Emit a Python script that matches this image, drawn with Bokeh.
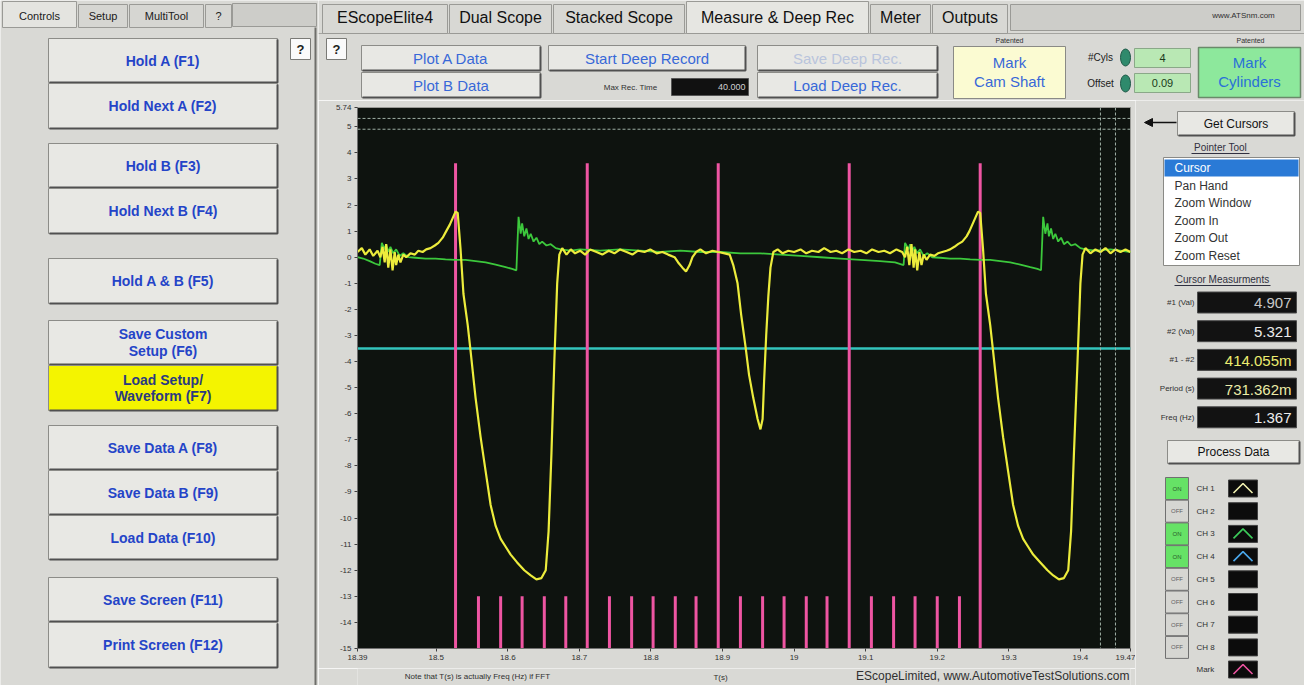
from bokeh.plotting import figure
from bokeh.layouts import row, column
from bokeh.models import Range1d, FixedTicker, CustomJSTickFormatter, Arrow, NormalHead, Span
from bokeh.core.properties import value
from bokeh.embed import file_html
from bokeh.resources import INLINE

# ---------------- data ----------------
x_ticks = [18.39, 18.5, 18.6, 18.7, 18.8, 18.9, 19.0, 19.1, 19.2, 19.3, 19.4, 19.47]
y_ticks = [-15, -14, -13, -12, -11, -10, -9, -8, -7, -6, -5, -4, -3, -2, -1, 0, 1, 2, 3, 4, 5, 5.74]

# CH 1 (yellow)
ch1_t = [18.390, 18.396, 18.401, 18.407, 18.412, 18.418, 18.422, 18.425, 18.428, 18.430,
         18.433, 18.436, 18.439, 18.442, 18.444, 18.447, 18.450, 18.454, 18.458, 18.464,
         18.470, 18.475, 18.481, 18.486, 18.492, 18.498, 18.503, 18.509, 18.514, 18.519,
         18.523, 18.527, 18.530, 18.534, 18.538, 18.544, 18.548, 18.555, 18.562, 18.569,
         18.576, 18.583, 18.590, 18.597, 18.604, 18.613, 18.623, 18.632, 18.640, 18.647,
         18.653, 18.657, 18.661, 18.665, 18.669, 18.672, 18.676, 18.682, 18.688, 18.694,
         18.701, 18.708, 18.715, 18.724, 18.732, 18.741, 18.749, 18.757, 18.766, 18.774,
         18.782, 18.791, 18.799, 18.808, 18.816, 18.824, 18.833, 18.838, 18.844, 18.849,
         18.854, 18.858, 18.863, 18.869, 18.877, 18.886, 18.894, 18.903, 18.910, 18.915,
         18.921, 18.926, 18.932, 18.937, 18.943, 18.949, 18.953, 18.956, 18.958, 18.961,
         18.964, 18.967, 18.971, 18.977, 18.984, 18.992, 19.000, 19.009, 19.017, 19.025,
         19.034, 19.042, 19.051, 19.059, 19.067, 19.076, 19.084, 19.093, 19.101, 19.109,
         19.118, 19.126, 19.134, 19.143, 19.151, 19.155, 19.158, 19.161, 19.164, 19.167,
         19.169, 19.172, 19.175, 19.178, 19.181, 19.185, 19.190, 19.196, 19.201, 19.207,
         19.213, 19.218, 19.224, 19.229, 19.235, 19.241, 19.245, 19.249, 19.253, 19.257,
         19.260, 19.264, 19.268, 19.274, 19.278, 19.285, 19.292, 19.299, 19.306, 19.313,
         19.320, 19.327, 19.334, 19.344, 19.354, 19.362, 19.370, 19.377, 19.383, 19.387,
         19.391, 19.396, 19.400, 19.403, 19.407, 19.414, 19.421, 19.428, 19.435, 19.442,
         19.449, 19.456, 19.463, 19.470]
ch1_v = [0.2, 0.35, 0.1, 0.3, 0.05, 0.25, 0.0, 0.4, -0.2, 0.5,
         -0.4, 0.3, -0.5, 0.2, -0.3, 0.1, -0.2, 0.1, 0.0, 0.15,
         0.1, 0.25, 0.2, 0.3, 0.35, 0.45, 0.55, 0.75, 1.0, 1.25,
         1.5, 1.75, 1.7, 0.3, -1.4, -2.6, -3.6, -5.4, -6.9, -8.2,
         -9.5, -10.3, -10.8, -11.1, -11.4, -11.7, -12.0, -12.2, -12.35, -12.3,
         -12.0, -10.5, -7.5, -4.0, -1.0, 0.1, 0.35, 0.1, 0.3, 0.15,
         0.25, 0.1, 0.3, 0.2, 0.1, 0.25, 0.15, 0.3, 0.2, 0.1,
         0.25, 0.2, 0.3, 0.15, 0.2, 0.1, 0.0, -0.2, -0.4, -0.55,
         -0.3, 0.0, 0.2, 0.3, 0.15, 0.25, 0.2, 0.15, 0.1, -0.3,
         -1.0, -2.2, -3.4, -4.5, -5.4, -6.2, -6.6, -6.2, -4.8, -3.0,
         -1.5, -0.4, 0.2, 0.3, 0.15, 0.25, 0.2, 0.3, 0.15, 0.25,
         0.2, 0.35, 0.2, 0.25, 0.15, 0.3, 0.2, 0.25, 0.15, 0.3,
         0.2, 0.25, 0.15, 0.3, 0.2, 0.0, 0.4, -0.3, 0.5, -0.4,
         0.3, -0.5, 0.2, -0.3, 0.1, -0.1, 0.1, 0.05, 0.15, 0.2,
         0.25, 0.3, 0.4, 0.5, 0.6, 0.8, 1.0, 1.25, 1.5, 1.75,
         1.7, 0.3, -1.4, -2.6, -3.6, -5.4, -6.9, -8.2, -9.5, -10.3,
         -10.8, -11.1, -11.4, -11.7, -12.0, -12.2, -12.35, -12.3, -12.0, -10.5,
         -7.5, -4.0, -1.0, 0.1, 0.35, 0.15, 0.3, 0.2, 0.35, 0.15,
         0.3, 0.2, 0.3, 0.2]

# CH 3 (green)
ch3_t = [18.390, 18.398, 18.407, 18.415, 18.421, 18.424, 18.428, 18.430, 18.433, 18.436,
         18.440, 18.444, 18.449, 18.454, 18.461, 18.471, 18.485, 18.499, 18.513, 18.527,
         18.541, 18.555, 18.569, 18.583, 18.597, 18.606, 18.612, 18.615, 18.618, 18.620,
         18.623, 18.626, 18.629, 18.632, 18.636, 18.640, 18.644, 18.648, 18.654, 18.660,
         18.667, 18.674, 18.688, 18.701, 18.729, 18.757, 18.785, 18.813, 18.841, 18.869,
         18.897, 18.925, 18.953, 18.981, 19.009, 19.037, 19.065, 19.093, 19.120, 19.141,
         19.153, 19.155, 19.160, 19.162, 19.165, 19.168, 19.172, 19.176, 19.181, 19.186,
         19.193, 19.204, 19.218, 19.232, 19.246, 19.260, 19.274, 19.288, 19.302, 19.316,
         19.330, 19.340, 19.345, 19.348, 19.351, 19.354, 19.356, 19.359, 19.362, 19.365,
         19.369, 19.373, 19.377, 19.382, 19.387, 19.393, 19.400, 19.407, 19.421, 19.442,
         19.456, 19.470]
ch3_v = [0.0, -0.05, -0.15, -0.25, -0.3, 0.55, 0.3, 0.5, 0.2, 0.4,
         0.15, 0.3, 0.05, 0.15, 0.0, -0.02, -0.05, -0.05, -0.08, -0.1,
         -0.1, -0.15, -0.2, -0.28, -0.38, -0.45, -0.5, 1.55, 0.9, 1.3,
         0.8, 1.1, 0.7, 0.9, 0.6, 0.75, 0.5, 0.6, 0.45, 0.5,
         0.35, 0.3, 0.25, 0.3, 0.25, 0.3, 0.25, 0.2, 0.25, 0.2,
         0.2, 0.15, 0.15, 0.1, 0.05, 0.0, -0.05, -0.1, -0.15, -0.2,
         -0.3, 0.55, 0.3, 0.5, 0.2, 0.4, 0.15, 0.3, 0.05, 0.15,
         0.0, -0.02, -0.05, -0.05, -0.08, -0.1, -0.1, -0.15, -0.2, -0.28,
         -0.38, -0.45, -0.5, 1.55, 0.9, 1.3, 0.8, 1.1, 0.7, 0.9,
         0.6, 0.75, 0.5, 0.6, 0.45, 0.5, 0.35, 0.3, 0.25, 0.3,
         0.25, 0.2]

# CH 4 (cyan) is a flat level
ch4_t = [18.39, 19.47]
ch4_v = [-3.5, -3.5]

# cylinder marks
mark_major_t = [18.527, 18.711, 18.894, 19.077, 19.260]
mark_major_top = 3.6
mark_minor_t = [18.559, 18.590, 18.620, 18.651, 18.681,
                18.742, 18.773, 18.803, 18.834, 18.863,
                18.925, 18.956, 18.986, 19.017, 19.046,
                19.108, 19.139, 19.169, 19.200, 19.231]
mark_minor_top = -13.0
mark_bottom = -15.0

# cursors
cursor_levels = [4.907, 5.321]
cursor_times = [19.428, 19.449]

# GUI texts
left_tabs = ["Controls", "Setup", "MultiTool", "?"]
left_buttons = [["Hold A (F1)"], ["Hold Next A (F2)"], ["Hold B (F3)"], ["Hold Next B (F4)"],
                ["Hold A & B (F5)"], ["Save Custom", "Setup (F6)"], ["Load Setup/", "Waveform (F7)"],
                ["Save Data A (F8)"], ["Save Data B (F9)"], ["Load Data (F10)"],
                ["Save Screen (F11)"], ["Print Screen (F12)"]]
top_tabs = ["EScopeElite4", "Dual Scope", "Stacked Scope", "Measure & Deep Rec", "Meter", "Outputs"]
pointer_items = ["Cursor", "Pan Hand", "Zoom Window", "Zoom In", "Zoom Out", "Zoom Reset"]
meas_labels = ["#1 (Val)", "#2 (Val)", "#1 - #2", "Period (s)", "Freq (Hz)"]
meas_values = ["4.907", "5.321", "414.055m", "731.362m", "1.367"]
channels = ["CH 1", "CH 2", "CH 3", "CH 4", "CH 5", "CH 6", "CH 7", "CH 8"]
channel_on = [True, False, True, True, False, False, False, False]

# ---------------- styling ----------------
FONT = value("Liberation Sans")
GUI_BG = "#d9d9d5"
BTN = "#e8e8e4"
EDGE = "#8c8c88"
SHADOW = "#505050"
BLUE_B = "#2444c8"
BLUE_T = "#3868d8"

YELLOW = "#ecec3c"
GREEN = "#3cc83c"
CYAN = "#33c4bc"
PINK = "#ee55a2"


def gui_fig(w, h, x0, x1, y0, y1):
    f = figure(width=w, height=h, x_range=Range1d(x0, x1), y_range=Range1d(y1, y0),
               output_backend="svg", toolbar_location=None, min_border=0,
               x_axis_location=None, y_axis_location=None)
    f.grid.visible = False
    f.outline_line_color = None
    f.background_fill_color = GUI_BG
    f.border_fill_color = GUI_BG
    return f


def txt(f, x, y, s, size, color="#222222", align="center", bold=False, baseline="middle"):
    f.text(x=[x], y=[y], text=[s], text_font=FONT, text_font_size=f"{size}px",
           text_color=color, text_align=align, text_baseline=baseline,
           text_font_style="bold" if bold else "normal")


def box(f, x0, y0, x1, y1, fill, line=EDGE, lw=1.0):
    f.quad(left=[x0], right=[x1], top=[y0], bottom=[y1], fill_color=fill,
           line_color=line, line_width=lw)


def button(f, x0, y0, x1, y1, lines, color, size, fill=BTN, bold=True):
    box(f, x0, y0, x1, y1, fill)
    f.line(x=[x0 + 1, x1, x1], y=[y1, y1, y0 + 1], line_color=SHADOW, line_width=2)
    n = len(lines)
    lh = size * 1.2
    for i, s in enumerate(lines):
        yy = (y0 + y1) / 2 + (i - (n - 1) / 2) * lh
        txt(f, (x0 + x1) / 2, yy, s, size, color, bold=bold)


# ---------------- left control panel ----------------
left = gui_fig(318, 685, 0, 318, 0, 685)
box(left, 232, 3, 316, 26, "#cdcdc9", "#9a9a96")
tab_x = [(2, 76), (78, 127), (129, 203), (205, 231)]
for (a, b), name in zip(tab_x, left_tabs):
    active = name == "Controls"
    box(left, a, 1 if active else 4, b, 27, "#e4e4e0" if active else "#d6d6d2", "#9a9a96")
    txt(left, (a + b) / 2, 15, name, 11, "#202020")
left.segment(x0=[315], y0=[27], x1=[315], y1=[685], line_color="#6e6e6a", line_width=2)
box(left, 290, 38, 310, 59, "#fafafa", "#7a7a76")
txt(left, 300, 48.5, "?", 13, "#202020", bold=True)
btn_y = [(38, 82), (83, 128), (143, 187), (188, 233), (258, 303), (320, 364), (365, 410),
         (425, 469), (470, 514), (515, 559), (577, 621), (622, 667)]
for (a, b), lines in zip(btn_y, left_buttons):
    fill = "#f4f400" if lines[0].startswith("Load Setup") else BTN
    col = "#2a3a80" if lines[0].startswith("Load Setup") else BLUE_B
    button(left, 48, a, 277, b, lines, col, 14, fill=fill)

# ---------------- top tool bar ----------------
top = gui_fig(986, 100, 318, 1304, 0, 100)
top.segment(x0=[318], y0=[33], x1=[1304], y1=[33], line_color="#a4a4a0", line_width=1)
tab_pos = [(322, 447), (449, 551), (553, 684), (686, 868), (870, 930), (932, 1007)]
for (a, b), name in zip(tab_pos, top_tabs):
    active = name.startswith("Measure")
    box(top, a, 1 if active else 4, b, 33, "#e6e6e2" if active else "#d8d8d4", "#9a9a96")
    txt(top, (a + b) / 2, 17, name, 16, "#111111")
box(top, 1010, 4, 1300, 30, "#cdcdc9", "#9a9a96")
txt(top, 1243, 15, "www.ATSnm.com", 8, "#303030")
box(top, 326, 38, 346, 59, "#fafafa", "#7a7a76")
txt(top, 336, 48.5, "?", 13, "#202020", bold=True)
button(top, 361, 45, 540, 70, ["Plot A Data"], BLUE_T, 15, bold=False)
button(top, 361, 72, 540, 97, ["Plot B Data"], BLUE_T, 15, bold=False)
button(top, 548, 45, 745, 70, ["Start Deep Record"], BLUE_T, 15, bold=False)
button(top, 757, 45, 937, 70, ["Save Deep Rec."], "#b9c4dc", 15, bold=False)
button(top, 757, 72, 937, 97, ["Load Deep Rec."], BLUE_T, 15, bold=False)
txt(top, 630, 87, "Max Rec. Time", 8, "#303030")
box(top, 671, 78, 748, 95, "#111111", "#555555")
txt(top, 745, 86.5, "40.000", 9, "#d0d0d0", align="right")
txt(top, 1009, 40, "Patented", 7, "#303030")
box(top, 953, 46, 1065, 98, "#fbfbd2", "#8a8a86")
txt(top, 1009, 62, "Mark", 15, BLUE_T)
txt(top, 1009, 81, "Cam Shaft", 15, BLUE_T)
txt(top, 1100, 57, "#Cyls", 10, "#202020")
txt(top, 1100, 83, "Offset", 10, "#202020")
for yy in (57, 83):
    top.ellipse(x=[1125], y=[yy], width=[10], height=[17], fill_color="#2f8a6c", line_color="#1f5a48")
box(top, 1134, 48, 1190, 67, "#b9e8b4", "#8aa888")
box(top, 1134, 73, 1190, 92, "#b9e8b4", "#8aa888")
txt(top, 1162, 57.5, "4", 11, "#1a3a1a")
txt(top, 1162, 82.5, "0.09", 11, "#1a3a1a")
txt(top, 1250, 40, "Patented", 7, "#303030")
box(top, 1198, 47, 1300, 97, "#8de89c", "#6a8a6a", 1.5)
txt(top, 1249, 62, "Mark", 15, "#2a70d8")
txt(top, 1249, 81, "Cylinders", 15, "#2a70d8")

# ---------------- scope plot ----------------
p = figure(width=817, height=568, x_range=Range1d(18.39, 19.47), y_range=Range1d(-15, 5.74),
           output_backend="svg", toolbar_location=None,
           min_border_left=39, min_border_right=5, min_border_top=7, min_border_bottom=20)
p.background_fill_color = "#0e130f"
p.border_fill_color = GUI_BG
p.outline_line_color = "#9a9a96"
p.grid.visible = False
p.xaxis.ticker = FixedTicker(ticks=x_ticks)
p.yaxis.ticker = FixedTicker(ticks=y_ticks)
p.xaxis.formatter = CustomJSTickFormatter(code="return String(Math.round(tick*100)/100);")
p.yaxis.formatter = CustomJSTickFormatter(code="return String(Math.round(tick*100)/100);")
p.axis.major_label_text_font_size = "8px"
p.axis.major_label_text_font = "Liberation Sans"
p.axis.major_label_text_color = "#303030"
p.axis.major_tick_in = 0
p.axis.major_tick_out = 3
p.axis.minor_tick_in = 0
p.axis.minor_tick_out = 0
p.axis.major_label_standoff = 3
p.axis.axis_line_color = "#707070"
p.axis.major_tick_line_color = "#404040"

for lv in cursor_levels:
    p.add_layout(Span(location=lv, dimension="width", line_color="#9fb0a6", line_width=1, line_dash="3 2"))
for tv in cursor_times:
    p.add_layout(Span(location=tv, dimension="height", line_color="#9fb0a6", line_width=1, line_dash="3 2"))

p.line(ch4_t, ch4_v, line_color=CYAN, line_width=2.5)
p.segment(x0=mark_major_t, y0=[mark_bottom] * len(mark_major_t), x1=mark_major_t,
          y1=[mark_major_top] * len(mark_major_t), line_color=PINK, line_width=3)
p.segment(x0=mark_minor_t, y0=[mark_bottom] * len(mark_minor_t), x1=mark_minor_t,
          y1=[mark_minor_top] * len(mark_minor_t), line_color=PINK, line_width=3)
p.line(ch3_t, ch3_v, line_color=GREEN, line_width=1.8)
p.line(ch1_t, ch1_v, line_color=YELLOW, line_width=2.2)

# strip below the scope (its frame is aligned to the scope frame: x 357..1130)
strip = gui_fig(817, 17, 357, 1130, 668, 685)
txt(strip, 477, 676, "Note that T(s) is actually Freq (Hz) if FFT", 8, "#303030")
txt(strip, 720, 677, "T(s)", 8, "#303030")
txt(strip, 1129, 675.5, "EScopeLimited, www.AutomotiveTestSolutions.com", 12, "#303030", align="right")

# ---------------- right panel ----------------
right = gui_fig(169, 585, 1135, 1304, 100, 685)
right.add_layout(Arrow(end=NormalHead(size=8, fill_color="#111111", line_color="#111111"),
                       x_start=1176, y_start=122, x_end=1144, y_end=122,
                       line_color="#111111", line_width=1.5))
button(right, 1177, 111, 1294, 135, ["Get Cursors"], "#111111", 12, bold=False)
txt(right, 1220, 147, "Pointer Tool", 10, "#303040")
right.segment(x0=[1191], y0=[153], x1=[1249], y1=[153], line_color="#303040", line_width=1)
box(right, 1163, 157, 1299, 265, "#ffffff", "#8a8a86")
box(right, 1164, 159, 1298, 176, "#2a7ad6", None)
for i, item in enumerate(pointer_items):
    txt(right, 1174, 167.5 + i * 17.6, item, 12, "#ffffff" if i == 0 else "#333333", align="left")
txt(right, 1222, 279, "Cursor Measurments", 10, "#303040")
right.segment(x0=[1174], y0=[285], x1=[1270], y1=[285], line_color="#303040", line_width=1)
meas_colors = ["#c8c8c8", "#ececec", "#ecec70", "#ececa8", "#ececec"]
for i, (lab, val) in enumerate(zip(meas_labels, meas_values)):
    yc = 302 + i * 28.7
    txt(right, 1194, yc, lab, 8, "#303030", align="right")
    box(right, 1197, yc - 10.5, 1296, yc + 10.5, "#121212", "#4a4a4a")
    txt(right, 1291, yc + 0.5, val, 15, meas_colors[i], align="right")
button(right, 1167, 440, 1299, 463, ["Process Data"], "#111111", 12, bold=False)

chev_colors = {0: "#f2f2b0", 2: "#3ccc5a", 3: "#4aa6ea"}
for i, (name, on) in enumerate(zip(channels, channel_on)):
    yc = 488 + i * 22.7
    box(right, 1165, yc - 11, 1188, yc + 11, "#66e266" if on else "#d6d6d2", "#707070")
    txt(right, 1176.5, yc, "ON" if on else "OFF", 6, "#2a5a2a" if on else "#606060")
    txt(right, 1196, yc, name, 8, "#303030", align="left")
    box(right, 1228, yc - 8.5, 1257, yc + 8.5, "#0c0c0c", "#404040")
    if i in chev_colors:
        right.line(x=[1233, 1242.5, 1252], y=[yc + 4.5, yc - 5, yc + 4.5],
                   line_color=chev_colors[i], line_width=1.6)
txt(right, 1196, 669, "Mark", 8, "#303030", align="left")
box(right, 1228, 660.5, 1257, 677.5, "#0c0c0c", "#404040")
right.line(x=[1233, 1242.5, 1252], y=[673.5, 664, 673.5], line_color=PINK, line_width=1.6)

layout = row(left, column(top, row(column(p, strip), right)))
open("out.html", "w").write(file_html(layout, INLINE))
